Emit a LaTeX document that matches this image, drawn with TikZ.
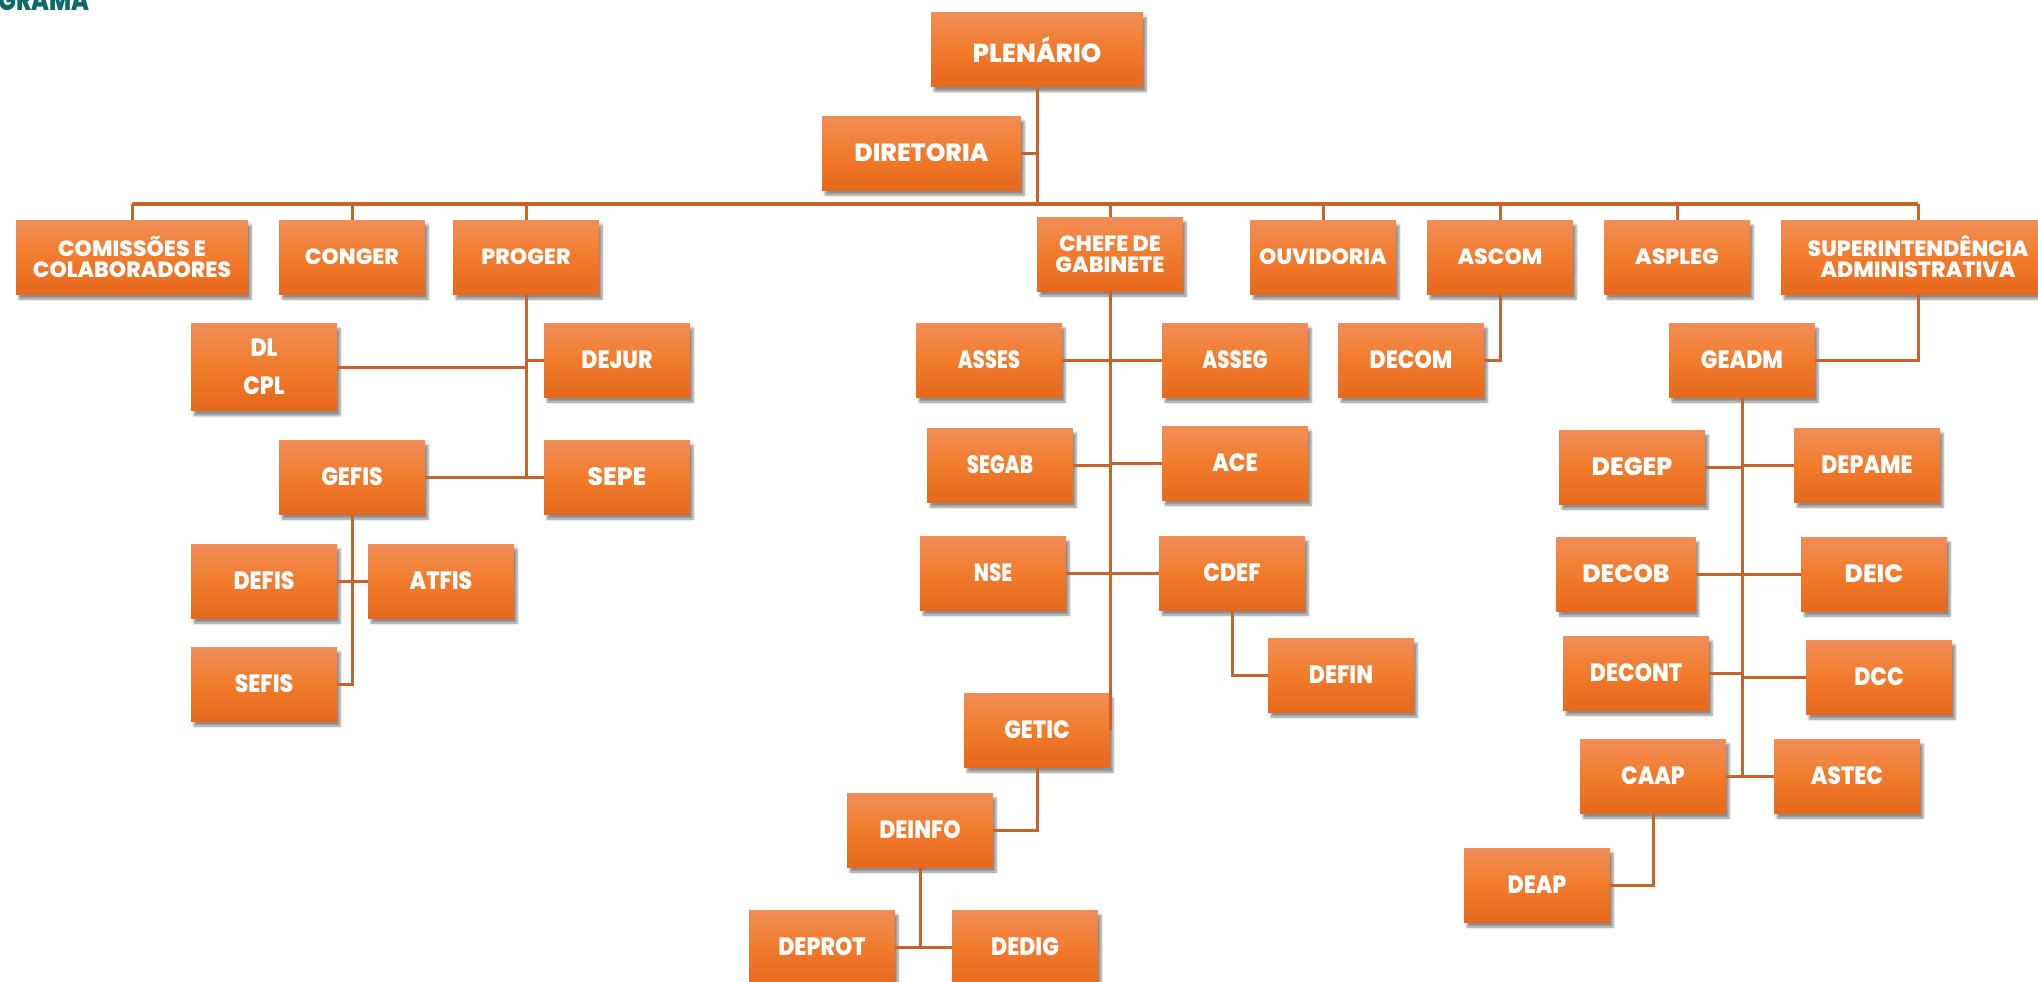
\documentclass[tikz,border=0pt]{standalone}
\usepackage{fontspec}
\setmainfont{Poppins}[BoldFont={Poppins ExtraBold}]
\newfontfamily\condface{Poppins}[BoldFont={Poppins ExtraBold}, FakeStretch=0.79]
\newfontfamily\midface{Poppins}[BoldFont={Poppins ExtraBold}, FakeStretch=0.88]
\usetikzlibrary{shadows.blur}
\definecolor{boxtop}{RGB}{240,142,88}
\definecolor{boxmid}{RGB}{242,123,44}
\definecolor{boxbot}{RGB}{230,104,28}
\definecolor{linkc}{RGB}{200,100,42}
\definecolor{titlec}{RGB}{14,106,106}

\begin{document}
\begin{tikzpicture}[x=1pt,y=-1pt,
  unit/.style={rectangle, minimum width=146pt, minimum height=74pt, inner sep=2pt,
    align=center, text=white, top color=boxtop, bottom color=boxbot, middle color=boxmid,
    blur shadow={shadow xshift=3pt, shadow yshift=-5pt, shadow blur steps=6, shadow opacity=45}},
  toptxt/.style={font=\bfseries\fontsize{25}{28}\selectfont},
  headtxt/.style={font=\bfseries\fontsize{22}{21}\selectfont},
  plaintxt/.style={font=\bfseries\fontsize{25}{28}\selectfont},
  widetxt/.style={font=\midface\bfseries\fontsize{25}{28}\selectfont},
  condtxt/.style={font=\condface\bfseries\fontsize{25}{28}\selectfont},
  link/.style={draw=linkc, line width=3pt},
  buslink/.style={draw=linkc, line width=4pt},
]
\clip (0,0) rectangle (2038,982);

% page heading, mostly above the sheet
\node[anchor=south east, inner sep=0pt, text=titlec,
  font=\condface\bfseries\fontsize{30}{30}\selectfont] (ttl) at (90,11) {GRAMA};

% top of the hierarchy
\node[unit,toptxt,font=\bfseries\fontsize{26}{28}\selectfont,minimum width=212pt] (plen) at (1037,49.5) {PLENÁRIO};
\node[unit,toptxt,minimum width=199pt] (dir) at (921.5,153) {DIRETORIA};

% first level
\node[unit,headtxt,minimum width=232pt] (com) at (132,257) {COMISSÕES E\\COLABORADORES};
\node[unit,headtxt] (conger) at (352,257) {CONGER};
\node[unit,headtxt] (proger) at (526,257) {PROGER};
\node[unit,headtxt] (chefe) at (1110,254) {CHEFE DE\\GABINETE};
\node[unit,headtxt] (ouv) at (1323,257) {OUVIDORIA};
\node[unit,headtxt] (ascom) at (1500,257) {ASCOM};
\node[unit,headtxt] (aspleg) at (1677,257) {ASPLEG};
\node[unit,headtxt,minimum width=274pt] (super) at (1918,257) {SUPERINTENDÊNCIA\\ADMINISTRATIVA};

% PROGER branch
\node[unit,widetxt,minimum height=87pt,font=\midface\bfseries\fontsize{25}{38}\selectfont] (dl) at (264,367) {DL\\CPL};
\node[unit,widetxt] (dejur) at (617,360) {DEJUR};
\node[unit,widetxt] (gefis) at (352,477) {GEFIS};
\node[unit,plaintxt] (sepe) at (617,477) {SEPE};
\node[unit,widetxt] (defis) at (264,581) {DEFIS};
\node[unit,widetxt] (atfis) at (441,581) {ATFIS};
\node[unit,widetxt] (sefis) at (264,684) {SEFIS};

% CHEFE DE GABINETE branch
\node[unit,condtxt] (asses) at (989,360) {ASSES};
\node[unit,condtxt] (asseg) at (1235,360) {ASSEG};
\node[unit,condtxt] (segab) at (1000,465) {SEGAB};
\node[unit,widetxt] (ace) at (1235,463) {ACE};
\node[unit,condtxt] (nse) at (993,573) {NSE};
\node[unit,widetxt] (cdef) at (1232,573) {CDEF};
\node[unit,widetxt] (defin) at (1341,675) {DEFIN};
\node[unit,widetxt] (getic) at (1037,730) {GETIC};
\node[unit,widetxt] (deinfo) at (920,830) {DEINFO};
\node[unit,widetxt] (deprot) at (822,947) {DEPROT};
\node[unit,widetxt] (dedig) at (1025,947) {DEDIG};

% ASCOM branch
\node[unit,widetxt] (decom) at (1411,360) {DECOM};

% SUPERINTENDENCIA branch
\node[unit,widetxt] (geadm) at (1742,360) {GEADM};
\node[unit,plaintxt] (degep) at (1632,467) {DEGEP};
\node[unit,widetxt] (depame) at (1867,465) {DEPAME};
\node[unit,plaintxt,minimum width=139pt] (decob) at (1626,574) {DECOB};
\node[unit,plaintxt] (deic) at (1874,574) {DEIC};
\node[unit,widetxt] (decont) at (1636,673) {DECONT};
\node[unit,widetxt] (dcc) at (1879,677) {DCC};
\node[unit,widetxt] (caap) at (1653,776) {CAAP};
\node[unit,widetxt] (astec) at (1847,776) {ASTEC};
\node[unit,widetxt] (deap) at (1537,885) {DEAP};

% connectors
\coordinate (busL) at (132,204);
\coordinate (busR) at (1918,204);
\draw[buslink] (busL) -- (busR);
\draw[link] (plen.south) -- (plen.south |- busL);
\draw[link] (dir.east) -- (dir.east -| plen.south);
\foreach \n in {com,conger,proger,chefe,ouv,ascom,aspleg,super}
  \draw[link] (\n.north) -- (\n.north |- busL);

\draw[link] (proger.south) -- (proger.south |- sepe.west);
\draw[link] (dl.east) -- (dl.east -| proger.south);
\draw[link] (dejur.west) -- (dejur.west -| proger.south);
\draw[link] (gefis.east) -- (sepe.west);
\draw[link] (gefis.south) -- (gefis.south |- sefis.east) -- (sefis.east);
\draw[link] (defis.east) -- (atfis.west);

\draw[link] (chefe.south) -- (chefe.south |- getic.east);
\draw[link] (asses.east) -- (asseg.west);
\draw[link] (segab.east) -- (segab.east -| chefe.south);
\draw[link] (ace.west) -- (ace.west -| chefe.south);
\draw[link] (nse.east) -- (cdef.west);
\draw[link] (cdef.south) -- (cdef.south |- defin.west) -- (defin.west);
\draw[link] (getic.south) -- (getic.south |- deinfo.east) -- (deinfo.east);
\draw[link] (deinfo.south) -- (deinfo.south |- deprot.east);
\draw[link] (deprot.east) -- (dedig.west);

\draw[link] (ascom.south) -- (ascom.south |- decom.east) -- (decom.east);

\draw[link] (super.south) -- (super.south |- geadm.east) -- (geadm.east);
\draw[link] (geadm.south) -- (geadm.south |- caap.east);
\draw[link] (degep.east) -- (degep.east -| geadm.south);
\draw[link] (depame.west) -- (depame.west -| geadm.south);
\draw[link] (decob.east) -- (deic.west);
\draw[link] (decont.east) -- (decont.east -| geadm.south);
\draw[link] (dcc.west) -- (dcc.west -| geadm.south);
\draw[link] (caap.east) -- (astec.west);
\draw[link] (caap.south) -- (caap.south |- deap.east) -- (deap.east);
\end{tikzpicture}
\end{document}
